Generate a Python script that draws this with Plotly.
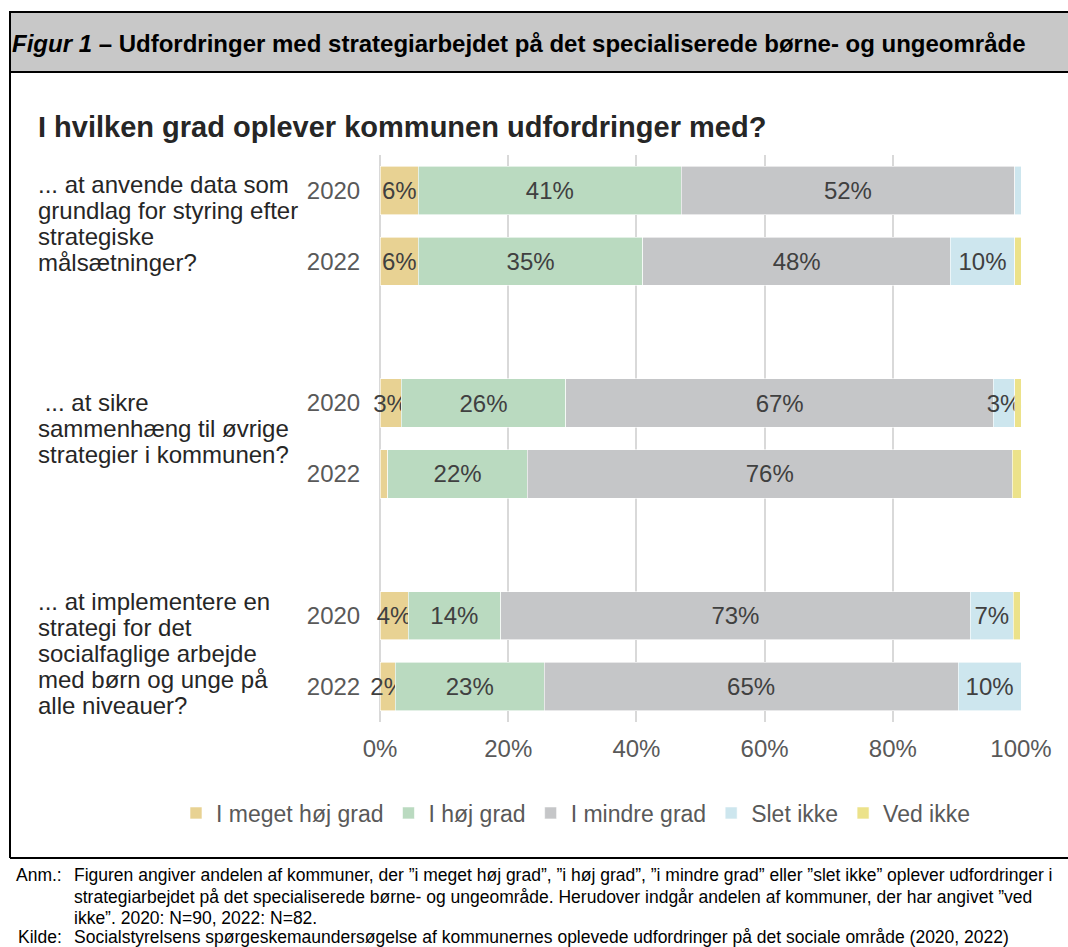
import plotly.graph_objects as go

# ---------------- data ----------------
rows = ["Q1|2020", "Q1|2022", "Q2|2020", "Q2|2022", "Q3|2020", "Q3|2022"]
years = ["2020", "2022", "2020", "2022", "2020", "2022"]
series_names = ["I meget høj grad", "I høj grad", "I mindre grad", "Slet ikke", "Ved ikke"]
meget_hoj = [6.0, 6.0, 3.3, 1.2, 4.4, 2.4]
hoj = [41.0, 35.0, 25.7, 21.8, 14.4, 23.2]
mindre = [52.0, 48.0, 66.7, 75.6, 73.3, 64.6]
slet_ikke = [1.0, 10.0, 3.3, 0.0, 6.7, 9.8]
ved_ikke = [0.0, 1.0, 1.0, 1.4, 1.1, 0.0]

questions = [
    ["... at anvende data som", "grundlag for styring efter", "strategiske", "målsætninger?"],
    [" ... at sikre", "sammenhæng til øvrige", "strategier i kommunen?"],
    ["... at implementere en", "strategi for det", "socialfaglige arbejde", "med børn og unge på", "alle niveauer?"],
]
x_ticks = [0, 20, 40, 60, 80, 100]
x_ticklabels = ["0%", "20%", "40%", "60%", "80%", "100%"]

title_text = "I hvilken grad oplever kommunen udfordringer med?"
header_text = "<b><i>Figur 1</i> – Udfordringer med strategiarbejdet på det specialiserede børne- og ungeområde</b>"
note_lines = [
    "Figuren angiver andelen af kommuner, der ”i meget høj grad”, ”i høj grad”, ”i mindre grad” eller ”slet ikke” oplever udfordringer i",
    "strategiarbejdet på det specialiserede børne- og ungeområde. Herudover indgår andelen af kommuner, der har angivet ”ved",
    "ikke”. 2020: N=90, 2022: N=82.",
]
source_line = "Socialstyrelsens spørgeskemaundersøgelse af kommunernes oplevede udfordringer på det sociale område (2020, 2022)"

# ---------------- styling ----------------
colors = ["#E8D293", "#BADAC0", "#C5C6C8", "#CDE6EE", "#ECE28A"]
FONT = "Liberation Sans, Arial, sans-serif"
W, H = 1068, 947
L, R, T, B = 380, 47, 155, 225
PW, PH = W - L - R, H - T - B


def px2x(px):
    return (px - L) / PW


def py2y(py):
    return (H - B - py) / PH


# categories with blank spacer rows between question groups
order = []
for i, r in enumerate(rows):
    if i > 0 and i % 2 == 0:
        order.append(f"gap{i}")
    order.append(r)

fig = go.Figure()
for name, vals, col in zip(series_names, [meget_hoj, hoj, mindre, slet_ikke, ved_ikke], colors):
    labels = [f"{round(v)}%" if v >= 1.5 else "" for v in vals]
    fig.add_trace(go.Bar(
        y=rows, x=vals, name=name, orientation="h",
        marker=dict(color=col, line=dict(color="white", width=0.6)),
        text=labels, textposition="inside", insidetextanchor="middle",
        textangle=0, constraintext="none",
        textfont=dict(family=FONT, size=24, color="#404040"),
        cliponaxis=False,
    ))

fig.update_layout(
    width=W, height=H,
    barmode="stack", bargap=0.32,
    paper_bgcolor="white", plot_bgcolor="white",
    margin=dict(l=L, r=R, t=T, b=B, autoexpand=False),
    font=dict(family=FONT, color="#595959"),
    showlegend=True,
    legend=dict(orientation="h", x=px2x(176), xanchor="left",
                y=py2y(813), yanchor="middle",
                font=dict(family=FONT, size=23, color="#595959"),
                traceorder="normal", itemwidth=30, tracegroupgap=0),
    xaxis=dict(range=[0, 100], tickvals=x_ticks, ticktext=x_ticklabels, showgrid=True,
               gridcolor="#D9D9D9", gridwidth=2, zeroline=False, showline=False,
               ticks="outside", ticklen=5, tickcolor="rgba(0,0,0,0)",
               tickfont=dict(family=FONT, size=24, color="#595959"), fixedrange=True),
    yaxis=dict(type="category", categoryorder="array", categoryarray=order,
               range=[len(order) - 0.5, -0.5], tickvals=rows, ticktext=years,
               showgrid=False, zeroline=False, showline=False,
               ticks="outside", ticklen=14, tickcolor="rgba(0,0,0,0)",
               tickfont=dict(family=FONT, size=24, color="#595959"), fixedrange=True),
)

shapes = [
    # header band
    dict(type="rect", xref="paper", yref="paper", x0=px2x(10), x1=px2x(1075), y0=py2y(12), y1=py2y(72),
         fillcolor="#C8C8C8", line=dict(color="black", width=2), layer="below"),
    # left frame line
    dict(type="line", xref="paper", yref="paper", x0=px2x(10), x1=px2x(10), y0=py2y(72), y1=py2y(858),
         line=dict(color="black", width=2)),
    # separator above notes
    dict(type="line", xref="paper", yref="paper", x0=px2x(10), x1=px2x(1075), y0=py2y(858), y1=py2y(858),
         line=dict(color="black", width=2)),
    # category axis line at 0%
    dict(type="line", xref="paper", yref="paper", x0=0, x1=0, y0=0, y1=1,
         line=dict(color="#D9D9D9", width=2), layer="below"),
]

ann = []
ann.append(dict(text=header_text, xref="paper", yref="paper", x=px2x(10), y=py2y(44),
                xanchor="left", yanchor="middle", showarrow=False,
                font=dict(family=FONT, size=24, color="black")))
ann.append(dict(text=f"<b>{title_text}</b>", xref="paper", yref="paper", x=px2x(36), y=py2y(127),
                xanchor="left", yanchor="middle", showarrow=False,
                font=dict(family=FONT, size=29, color="#262626")))
q_start = [184, 402, 601]
for lines, y0 in zip(questions, q_start):
    for k, line in enumerate(lines):
        ann.append(dict(text=line, xref="paper", yref="paper", x=px2x(36), y=py2y(y0 + 26 * k),
                        xanchor="left", yanchor="middle", showarrow=False,
                        font=dict(family=FONT, size=24, color="#262626")))
# notes
NOTE_SIZE = 17.5
ann.append(dict(text="Anm.:", xref="paper", yref="paper", x=px2x(64), y=py2y(875),
                xanchor="right", yanchor="middle", showarrow=False,
                font=dict(family=FONT, size=NOTE_SIZE, color="black")))
for k, line in enumerate(note_lines):
    ann.append(dict(text=line, xref="paper", yref="paper", x=px2x(72), y=py2y(875 + 21.5 * k),
                    xanchor="left", yanchor="middle", showarrow=False,
                    font=dict(family=FONT, size=NOTE_SIZE, color="black")))
ann.append(dict(text="Kilde:", xref="paper", yref="paper", x=px2x(64), y=py2y(937),
                xanchor="right", yanchor="middle", showarrow=False,
                font=dict(family=FONT, size=NOTE_SIZE, color="black")))
ann.append(dict(text=source_line, xref="paper", yref="paper", x=px2x(72), y=py2y(937),
                xanchor="left", yanchor="middle", showarrow=False,
                font=dict(family=FONT, size=NOTE_SIZE, color="black")))

fig.update_layout(shapes=shapes, annotations=ann)
fig.write_html("out.html", config={"displayModeBar": False},
               post_script="document.body.style.margin='0';document.body.style.overflow='hidden';")
